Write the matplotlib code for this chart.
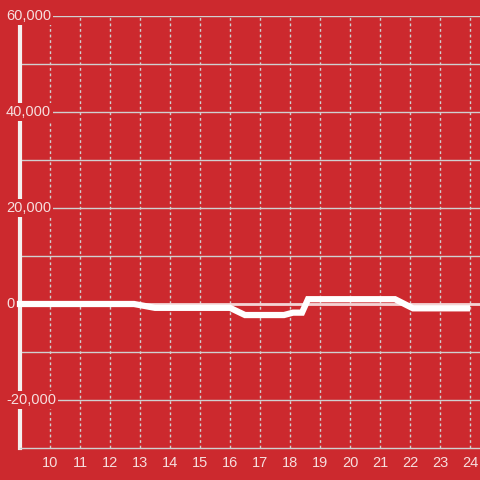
import matplotlib
matplotlib.use('Agg')
import matplotlib.pyplot as plt
import matplotlib.transforms as mtransforms

# values
hours = [9, 12.8, 13.5, 16.0, 16.5, 17.8, 18.1, 18.4, 18.6, 21.5, 22.1, 23.9]
values = [0, 0, -800, -800, -2300, -2300, -1800, -1800, 1000, 1000, -900, -900]
x_ticks = list(range(10, 25))
y_labels = [60000, 40000, 20000, 0, -20000]

bg = '#cc292e'
txt = '#f6dede'
grid = '#d0d0d0'

plt.rcParams['font.family'] = ['Liberation Sans', 'DejaVu Sans']

fig = plt.figure(figsize=(4.8, 4.8), dpi=100, facecolor=bg)
ax = fig.add_axes([20 / 480, 32 / 480, 460 / 480, 432 / 480], facecolor=bg)

ax.set_xlim(9, 24 + 1 / 3)
ax.set_ylim(-30000, 60000)

# grid
for v in range(-20000, 60001, 10000):
    ax.axhline(v, color=grid, lw=1, zorder=1)
for h in x_ticks:
    ax.axvline(h, color=grid, lw=1, ls=(0, (2, 2)), zorder=1)
ax.axhline(0, color='#f4d4d4', lw=2, zorder=2)

# data
ax.plot(hours, values, color='white', lw=4.5, solid_joinstyle='miter',
        solid_capstyle='projecting', clip_on=False, zorder=6)

# spines
for s in ['top', 'right']:
    ax.spines[s].set_visible(False)
ax.spines['left'].set_color('#f4f0f0')
ax.spines['left'].set_linewidth(3)
ax.spines['left'].set_bounds(-30000, 58500)
ax.spines['bottom'].set_color(grid)
ax.spines['bottom'].set_linewidth(1)

ax.set_yticks([])
ax.set_xticks(x_ticks)
ax.set_xticklabels([str(h) for h in x_ticks])
ax.tick_params(axis='x', length=0, pad=6, labelsize=10.5, labelcolor=txt)

# y labels sit left-aligned near the figure edge, over the spine
trans = mtransforms.blended_transform_factory(fig.transFigure, ax.transData)
for v in y_labels:
    ax.text(6 / 480, v, f'{v:,}', ha='left', va='center', color=txt, fontsize=10.5,
            transform=trans, zorder=4, bbox=dict(fc=bg, ec='none', pad=1.5))

fig.savefig('out.png', dpi=100, facecolor=bg)
